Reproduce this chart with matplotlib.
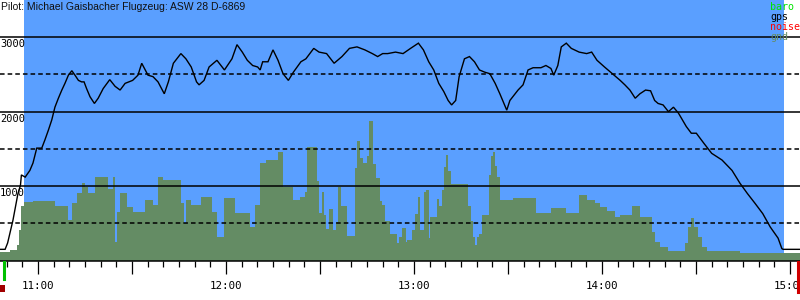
import matplotlib
matplotlib.use("Agg")
import matplotlib.pyplot as plt
from matplotlib.ticker import MultipleLocator, FixedLocator, FixedFormatter
import matplotlib.transforms as mtransforms

# ---------------- data ----------------
title = "Pilot: Michael Gaisbacher Flugzeug: ASW 28 D-6869"
legend_labels = ["baro", "gps", "noise", "gnd"]
legend_colors = ["#00e400", "#000000", "#ff0000", "#648c64"]

# time in minutes after 11:00, altitude in metres
gps_t = [-12.1, -10.5, -9.7, -8.0, -6.4, -5.6, -5.3, -4.1, -2.6, -1.6,
         -0.4, 1.2, 2.2, 3.3, 4.4, 5.4, 6.5, 7.6, 8.6, 9.7,
         10.8, 11.8, 12.9, 13.9, 14.7, 15.5, 16.6, 18.0, 19.2, 20.8,
         22.9, 24.6, 26.2, 27.8, 30.2, 31.9, 33.1, 35.1, 36.7, 38.3,
         40.3, 41.6, 43.2, 45.6, 47.2, 48.9, 50.6, 51.4, 53.0, 54.6,
         57.1, 59.5, 61.9, 63.5, 65.2, 66.8, 68.5, 70.1, 70.9, 71.7,
         73.4, 75.0, 76.6, 78.2, 79.9, 81.5, 83.9, 85.5, 88.0, 89.7,
         92.1, 94.5, 97.0, 99.4, 101.8, 104.3, 106.7, 108.4, 110.0, 111.6,
         114.1, 116.5, 118.9, 121.4, 123.0, 124.7, 126.3, 127.9, 129.5, 130.9,
         132.0, 133.3, 134.4, 136.1, 137.7, 139.3, 140.9, 142.6, 144.2, 145.9,
         147.4, 149.6, 150.6, 153.2, 154.8, 156.4, 158.0, 160.5, 162.1, 163.7,
         164.6, 165.9, 167.0, 168.6, 170.2, 172.7, 175.1, 176.7, 178.4, 180.8,
         183.3, 185.8, 187.3, 188.9, 190.6, 192.1, 193.9, 195.5, 196.8, 197.9,
         199.5, 201.2, 202.8, 204.4, 206.9, 208.5, 210.1, 212.6, 215.0, 218.3,
         221.5, 224.0, 226.4, 228.8, 231.3, 233.7, 236.2, 237.4, 237.8, 243.2]
gps_alt = [150, 150, 235, 540, 900, 1010, 1150, 1120, 1210, 1310,
           1510, 1510, 1620, 1750, 1890, 2060, 2180, 2290, 2380, 2490,
           2550, 2490, 2420, 2400, 2400, 2310, 2200, 2110, 2180, 2310,
           2430, 2340, 2290, 2380, 2420, 2490, 2650, 2490, 2470, 2400,
           2240, 2400, 2650, 2780, 2710, 2600, 2400, 2360, 2420, 2600,
           2690, 2560, 2710, 2900, 2800, 2690, 2620, 2600, 2560, 2670,
           2670, 2830, 2690, 2510, 2420, 2530, 2670, 2710, 2850, 2800,
           2780, 2650, 2740, 2850, 2870, 2830, 2780, 2740, 2780, 2780,
           2800, 2780, 2850, 2920, 2830, 2670, 2560, 2380, 2270, 2150,
           2090, 2150, 2470, 2710, 2740, 2670, 2560, 2530, 2510, 2380,
           2240, 2020, 2150, 2290, 2360, 2560, 2590, 2590, 2620, 2580,
           2490, 2620, 2870, 2920, 2850, 2800, 2780, 2800, 2690, 2600,
           2510, 2420, 2360, 2290, 2180, 2240, 2290, 2280, 2150, 2110,
           2090, 2000, 2060, 1980, 1800, 1710, 1710, 1570, 1440, 1350,
           1210, 1040, 900, 770, 630, 450, 300, 160, 150, 150]

gnd_t = [-12.1, -8.9, -6.7, -6.1, -5.4, -4.5, -1.6, 5.4, 9.6, 10.9,
         12.4, 14.0, 15.0, 16.0, 18.2, 22.3, 23.9, 24.6, 25.2, 26.2,
         28.4, 30.3, 34.1, 36.7, 38.3, 39.9, 45.6, 46.6, 47.2, 48.8,
         52.0, 55.5, 57.1, 59.4, 62.9, 67.7, 69.3, 70.9, 72.8, 76.6,
         78.2, 81.4, 83.6, 85.2, 85.9, 89.0, 89.7, 90.6, 91.3, 91.9,
         92.9, 94.1, 95.1, 95.7, 96.7, 98.6, 101.2, 101.8, 102.8, 103.7,
         105.0, 105.6, 106.9, 107.9, 109.1, 109.8, 110.7, 112.3, 114.6, 115.2,
         116.2, 117.4, 117.8, 119.4, 120.4, 121.3, 121.9, 123.2, 123.8, 124.8,
         125.1, 127.3, 128.0, 128.9, 129.6, 130.2, 130.9, 131.8, 137.2, 138.2,
         138.8, 139.5, 140.1, 140.7, 141.7, 143.9, 144.6, 145.2, 145.9, 146.5,
         147.4, 151.6, 158.9, 163.7, 168.5, 172.7, 175.2, 177.8, 179.4, 181.6,
         184.1, 185.7, 189.6, 192.1, 196.0, 196.9, 198.5, 201.1, 206.5, 207.5,
         208.4, 209.4, 210.7, 212.0, 213.5, 224.0, 243.2]
gnd_alt = [110, 140, 210, 410, 730, 790, 800, 730, 540, 770,
           910, 1040, 990, 910, 1120, 960, 1120, 250, 650, 910,
           720, 650, 810, 740, 1120, 1080, 770, 500, 810, 740,
           850, 650, 320, 840, 640, 450, 740, 1310, 1350, 1460,
           990, 810, 850, 920, 1520, 1070, 640, 920, 610, 420,
           690, 410, 520, 990, 730, 330, 1240, 1600, 1380, 1310,
           1400, 1870, 1300, 1110, 800, 740, 530, 360, 230, 320,
           440, 250, 280, 410, 620, 850, 410, 920, 950, 300,
           580, 830, 730, 950, 1250, 1420, 1200, 1030, 730, 530,
           320, 210, 320, 360, 610, 1150, 1400, 1460, 1270, 1120,
           810, 840, 640, 700, 640, 880, 810, 770, 720, 660,
           580, 610, 730, 580, 380, 250, 180, 130, 230, 450,
           570, 450, 320, 180, 130, 100, 100]

flight_window = (-4.5, 238.1)      # minutes after 11:00 (blue band)
start_marker_t = -10.9
end_marker_t = 242.6
x_range = (-12.13, 243.19)
y_range = (0, 3500)
solid_levels = [1000, 2000, 3000]
dashed_levels = [500, 1500, 2500]
long_ticks = [-30, 0, 30, 60, 90, 120, 150, 180, 210, 240]
tick_labels = ["", "11:00", "", "12:00", "", "13:00", "", "14:00", "", "15:00"]

BLUE = "#5a9fff"
GREEN = "#648c64"
MONO = "DejaVu Sans Mono"

# ---------------- figure ----------------
W, H = 800, 300
fig = plt.figure(figsize=(W / 100, H / 100), dpi=100)
fig.patch.set_facecolor("white")
ax = fig.add_axes([0, 39.5 / H, 1, 260.5 / H])
ax.set_xlim(*x_range)
ax.set_ylim(*y_range)
ax.set_facecolor("white")

ax.axvspan(flight_window[0], flight_window[1], ymin=0, ymax=1,
           color=BLUE, lw=0, zorder=0)
ax.fill_between(gnd_t, gnd_alt, 0, step="post", color=GREEN, lw=0, zorder=1)

for lv in solid_levels:
    ax.axhline(lv, color="black", lw=1.1, zorder=3)
for lv in dashed_levels:
    ax.axhline(lv, color="black", lw=1.1, ls=(0, (3, 2)), zorder=3)

ax.plot(gps_t, gps_alt, color="black", lw=1.0, zorder=4,
        solid_joinstyle="miter")

for lv in solid_levels:
    ax.annotate(str(lv), xy=(0, lv), xycoords=("axes fraction", "data"),
                xytext=(0, -1.5), textcoords="offset points",
                ha="left", va="top", fontsize=7.5, family=MONO, zorder=6)

# spines & ticks
for s in ["top", "left", "right"]:
    ax.spines[s].set_visible(False)
ax.spines["bottom"].set_linewidth(1.1)
ax.yaxis.set_visible(False)
ax.xaxis.set_major_locator(FixedLocator(long_ticks))
ax.xaxis.set_major_formatter(FixedFormatter(tick_labels))
ax.xaxis.set_minor_locator(MultipleLocator(5))
ax.tick_params(axis="x", which="major", direction="out", length=9.5,
               width=0.9, pad=5.0, labelsize=7.8)
ax.tick_params(axis="x", which="minor", direction="out", length=4.3,
               width=0.9)
for lab in ax.get_xticklabels():
    lab.set_family(MONO)

# start / end markers below the axis
trans = mtransforms.blended_transform_factory(ax.transData, fig.transFigure)
ax.plot([start_marker_t, start_marker_t], [1 - 262 / H, 1 - 279 / H],
        color="#00c000", lw=2.2, transform=trans, clip_on=False, zorder=5)
ax.plot([end_marker_t, end_marker_t], [1 - 262 / H, 1 - 292 / H],
        color="#d00000", lw=2.2, transform=trans, clip_on=False, zorder=5)
fig.patches.append(plt.Rectangle((0, 1 - 292 / H), 5 / W, 7 / H,
                                 transform=fig.transFigure,
                                 color="#a00000", lw=0))

# title and legend
fig.text(1 / W, 1 - 7.5 / H, title, ha="left", va="center",
         fontsize=7.5, family="Liberation Sans", color="#111111")
for i, (lab, col) in enumerate(zip(legend_labels, legend_colors)):
    fig.text(770 / W, 1 - (10 + 10 * i) / H, lab, ha="left", va="baseline",
             fontsize=7.2, family=MONO, color=col)

fig.savefig("out.png", dpi=100)
